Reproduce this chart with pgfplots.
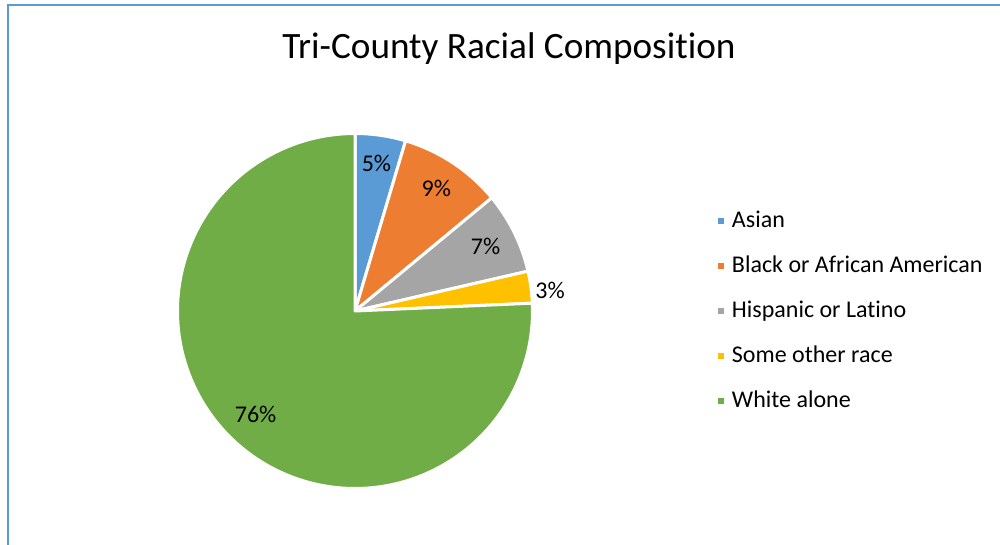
\documentclass[border=0pt]{standalone}
\usepackage{pgfplots}
\pgfplotsset{compat=1.18}
\usepackage{pgfplotstable}
\usepackage{fontspec}
\setmainfont[Ligatures={NoCommon,NoRequired}]{Carlito}
\definecolor{cAsian}{HTML}{5B9BD5}
\definecolor{cBlack}{HTML}{ED7D31}
\definecolor{cHisp}{HTML}{A5A5A5}
\definecolor{cOther}{HTML}{FFC000}
\definecolor{cWhite}{HTML}{70AD47}
\definecolor{cBorder}{HTML}{5B9BD5}
\pgfplotstableread{
label value
Asian 4.6
Black 9.4
Hispanic 7.4
Other 2.9
White 75.7
}\piedata
\begin{document}
\begin{tikzpicture}[x=1pt,y=1pt]
\useasboundingbox (0,0) rectangle (1000,545);
\draw[cBorder, line width=2pt] (7.5,0) -- (7.5,539.5) -- (1000,539.5);
\node[anchor=base, font=\fontsize{37.2}{44}\selectfont, inner sep=0pt] at (509,486) {Tri-County Racial Composition};
% values and angles
\pgfplotstablegetelem{0}{value}\of\piedata \let\vA\pgfplotsretval
\pgfplotstablegetelem{1}{value}\of\piedata \let\vB\pgfplotsretval
\pgfplotstablegetelem{2}{value}\of\piedata \let\vC\pgfplotsretval
\pgfplotstablegetelem{3}{value}\of\piedata \let\vD\pgfplotsretval
\pgfplotstablegetelem{4}{value}\of\piedata \let\vE\pgfplotsretval
\pgfmathsetmacro\aA{90}
\pgfmathsetmacro\aB{\aA-3.6*\vA}
\pgfmathsetmacro\aC{\aB-3.6*\vB}
\pgfmathsetmacro\aD{\aC-3.6*\vC}
\pgfmathsetmacro\aE{\aD-3.6*\vD}
\pgfmathsetmacro\aF{\aE-3.6*\vE}
\pgfmathsetmacro\mA{(\aA+\aB)/2}
\pgfmathsetmacro\mB{(\aB+\aC)/2}
\pgfmathsetmacro\mC{(\aC+\aD)/2}
\pgfmathsetmacro\mD{(\aD+\aE)/2}
\pgfmathsetmacro\mE{(\aE+\aF)/2}
\pgfmathsetmacro\xA{0.84*cos(\mA)}\pgfmathsetmacro\yA{0.84*sin(\mA)}
\pgfmathsetmacro\xB{0.83*cos(\mB)}\pgfmathsetmacro\yB{0.83*sin(\mB)}
\pgfmathsetmacro\xC{0.82*cos(\mC)}\pgfmathsetmacro\yC{0.82*sin(\mC)}
\pgfmathsetmacro\xD{1.105*cos(\mD-1.6)}\pgfmathsetmacro\yD{1.105*sin(\mD-1.6)}
\pgfmathsetmacro\xE{0.81*cos(\mE)}\pgfmathsetmacro\yE{0.81*sin(\mE)}
\pgfmathtruncatemacro\pA{round(\vA)}
\pgfmathtruncatemacro\pB{round(\vB)}
\pgfmathtruncatemacro\pC{round(\vC)}
\pgfmathtruncatemacro\pD{round(\vD)}
\pgfmathtruncatemacro\pE{round(\vE)}
\begin{axis}[
  hide axis, scale only axis,
  width=355pt, height=355pt,
  xmin=-1, xmax=1, ymin=-1, ymax=1,
  at={(355pt,234pt)}, anchor=center, clip=false,
  legend image code/.code={\fill[#1] (0pt,-4.5pt) rectangle (9pt,4.5pt); \path (14pt,0pt);},
  legend cell align=left,
  legend style={draw=none, fill=none, inner sep=0pt, outer sep=0pt,
    at={(axis description cs:1.514,0.5)}, anchor=west,
    font=\fontsize{24}{28}\selectfont,
    nodes={inner sep=0pt, text height=18pt, text depth=5pt},
    row sep=22pt, column sep=0pt},
]
\addplot[fill=cAsian, draw=white, line width=3pt, line join=round, domain=\aA:\aB, samples=40] ({cos(x)},{sin(x)}) -- (axis cs:0,0) -- cycle;
\addplot[fill=cBlack, draw=white, line width=3pt, line join=round, domain=\aB:\aC, samples=60] ({cos(x)},{sin(x)}) -- (axis cs:0,0) -- cycle;
\addplot[fill=cHisp, draw=white, line width=3pt, line join=round, domain=\aC:\aD, samples=50] ({cos(x)},{sin(x)}) -- (axis cs:0,0) -- cycle;
\addplot[fill=cOther, draw=white, line width=3pt, line join=round, domain=\aD:\aE, samples=30] ({cos(x)},{sin(x)}) -- (axis cs:0,0) -- cycle;
\addplot[fill=cWhite, draw=white, line width=3pt, line join=round, domain=\aE:\aF, samples=300] ({cos(x)},{sin(x)}) -- (axis cs:0,0) -- cycle;
\legend{Asian, Black or African American, Hispanic or Latino, Some other race, White alone}
\node[font=\fontsize{24}{28}\selectfont, inner sep=0pt] at (axis cs:\xA,\yA) {\pA\%};
\node[font=\fontsize{24}{28}\selectfont, inner sep=0pt] at (axis cs:\xB,\yB) {\pB\%};
\node[font=\fontsize{24}{28}\selectfont, inner sep=0pt] at (axis cs:\xC,\yC) {\pC\%};
\node[font=\fontsize{24}{28}\selectfont, inner sep=0pt] at (axis cs:\xD,\yD) {\pD\%};
\node[font=\fontsize{24}{28}\selectfont, inner sep=0pt] at (axis cs:\xE,\yE) {\pE\%};
\end{axis}
\end{tikzpicture}
\end{document}
